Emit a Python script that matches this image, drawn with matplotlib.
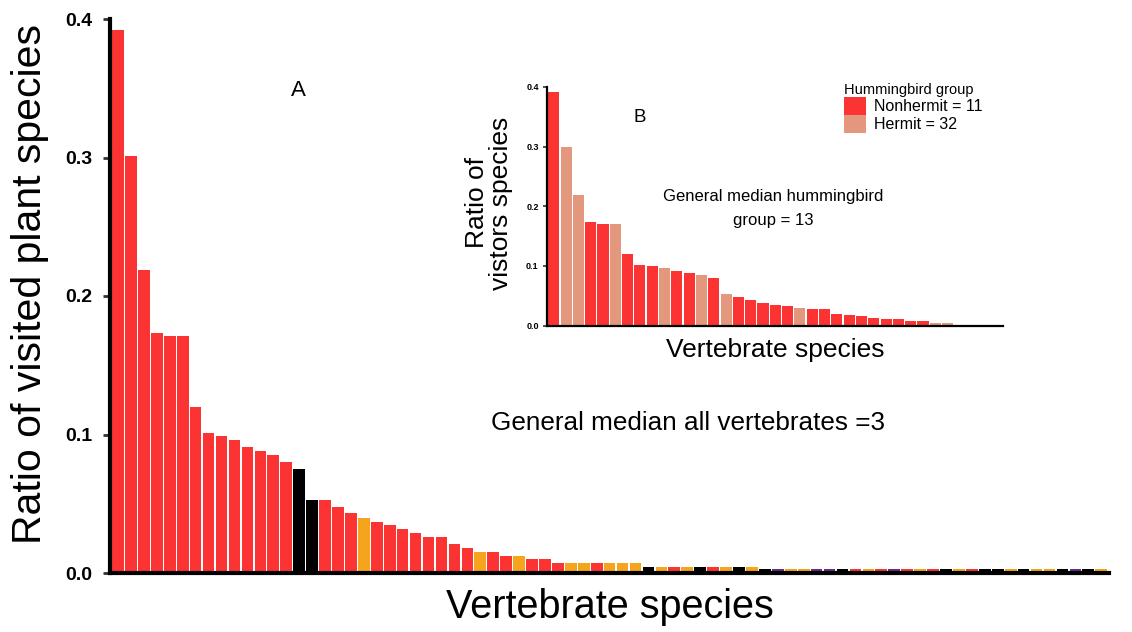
import matplotlib
matplotlib.use("Agg")
import matplotlib.pyplot as plt
from matplotlib.patches import Patch

plt.rcParams['font.family'] = ['Liberation Sans', 'DejaVu Sans']

# panel A: ratio of visited plant species per vertebrate visitor (sorted)
ratio_all = [0.392, 0.301, 0.219, 0.173, 0.171, 0.171, 0.120, 0.101, 0.099, 0.096,
             0.091, 0.088, 0.085, 0.080, 0.075, 0.053, 0.053, 0.048, 0.043, 0.040,
             0.037, 0.035, 0.032, 0.029, 0.026, 0.026, 0.021, 0.018, 0.0155, 0.0155,
             0.012, 0.012, 0.010, 0.010, 0.0075, 0.0075, 0.0075, 0.0075, 0.0075, 0.0075,
             0.0075, 0.0045, 0.0045, 0.0045, 0.0045, 0.0045, 0.0045, 0.0045, 0.0045, 0.0045,
             0.0028, 0.0028, 0.0028, 0.0028, 0.0028, 0.0028, 0.0028, 0.0028, 0.0028, 0.0028,
             0.0028, 0.0028, 0.0028, 0.0028, 0.0028, 0.0028, 0.0028, 0.0028, 0.0028, 0.0028,
             0.0028, 0.0028, 0.0028, 0.0028, 0.0028, 0.0028, 0.0028]
group_all = list("RRRRRRRRRRRRRRKKRRRORRRRRRRRORRORRROOROOO"
                 "KOROKROKO"
                 "KPOOPPKRORPRORKORKKOKOOKPKOO")

# panel B: hummingbirds only
ratio_hb = [0.392, 0.300, 0.219, 0.173, 0.171, 0.171, 0.120, 0.101, 0.099, 0.096,
            0.091, 0.088, 0.085, 0.080, 0.053, 0.048, 0.043, 0.037, 0.035, 0.032,
            0.029, 0.027, 0.027, 0.020, 0.018, 0.016, 0.013, 0.011, 0.011, 0.008,
            0.008, 0.005, 0.005]
group_hb = ["Nonhermit", "Hermit", "Hermit", "Nonhermit", "Nonhermit", "Hermit",
            "Nonhermit", "Nonhermit", "Nonhermit", "Hermit", "Nonhermit", "Nonhermit",
            "Hermit", "Nonhermit", "Hermit", "Nonhermit", "Nonhermit", "Nonhermit",
            "Nonhermit", "Nonhermit", "Hermit", "Nonhermit", "Nonhermit", "Nonhermit",
            "Nonhermit", "Nonhermit", "Nonhermit", "Nonhermit", "Nonhermit", "Nonhermit",
            "Nonhermit", "Hermit", "Hermit"]
legend_labels = ["Nonhermit = 11", "Hermit = 32"]
yticks = [0.0, 0.1, 0.2, 0.3, 0.4]

colors_all = {"R": "#fb3333", "O": "#f5a41d", "K": "#000000", "P": "#6a2a8c"}
colors_hb = {"Nonhermit": "#fb3333", "Hermit": "#e3977c"}

fig = plt.figure(figsize=(11.32, 6.32), dpi=100)

# ---- main panel
ax = fig.add_axes([110 / 1132, 1 - 573 / 632, 999 / 1132, 554 / 632])
ax.bar(range(len(ratio_all)), ratio_all, width=0.9,
       color=[colors_all[g] for g in group_all], linewidth=0)
ax.set_xlim(-0.62, len(ratio_all) - 0.4)
ax.set_ylim(0, 0.4)
ax.set_yticks(yticks)
ax.set_yticklabels([f"{v:.1f}" for v in yticks], fontsize=14, fontweight="bold")
ax.set_xticks([])
ax.tick_params(axis="y", length=5, width=2, color="#333333", pad=8)
for s in ("top", "right"):
    ax.spines[s].set_visible(False)
for s in ("left", "bottom"):
    ax.spines[s].set_linewidth(3)
    ax.spines[s].set_capstyle("projecting")

fig.text(30 / 1132, 1 - 284 / 632, "Ratio of visited plant species", rotation=90,
         ha="center", va="center", fontsize=29.5)
fig.text(610 / 1132, 1 - 607 / 632, "Vertebrate species", ha="center", va="center",
         fontsize=28.5)
fig.text(298 / 1132, 1 - 90 / 632, "A", ha="center", va="center", fontsize=16)
fig.text(688 / 1132, 1 - 423 / 632, "General median all vertebrates =3",
         ha="center", va="center", fontsize=18.8)

# ---- inset panel
axi = fig.add_axes([547 / 1132, 1 - 325.5 / 632, 456 / 1132, 238.5 / 632])
axi.bar(range(len(ratio_hb)), ratio_hb, width=0.9,
        color=[colors_hb[g] for g in group_hb], linewidth=0)
axi.set_xlim(-0.55, 36.5)
axi.set_ylim(0, 0.4)
axi.set_yticks(yticks)
axi.set_yticklabels([f"{v:.1f}" for v in yticks], fontsize=6.5, fontweight="bold")
axi.set_xticks([])
axi.tick_params(axis="y", length=3, width=1.2, color="#333333", pad=3)
for s in ("top", "right"):
    axi.spines[s].set_visible(False)
for s in ("left", "bottom"):
    axi.spines[s].set_linewidth(1.6)
    axi.spines[s].set_capstyle("projecting")
axi.patch.set_alpha(0)

fig.text(489 / 1132, 1 - 203 / 632, "Ratio of\nvistors species", rotation=90,
         ha="center", va="center", fontsize=19, linespacing=1.05)
fig.text(775 / 1132, 1 - 350 / 632, "Vertebrate species", ha="center", va="center",
         fontsize=19)
fig.text(640 / 1132, 1 - 117 / 632, "B", ha="center", va="center", fontsize=13.5)
fig.text(773 / 1132, 1 - 208 / 632, "General median hummingbird\ngroup = 13",
         ha="center", va="center", fontsize=12, linespacing=1.75)

handles = [Patch(facecolor=colors_hb[g], edgecolor="none") for g in ("Nonhermit", "Hermit")]
fig.legend(handles=handles, labels=legend_labels, title="Hummingbird group",
           loc="upper left", bbox_to_anchor=(833 / 1132, 1 - 72 / 632),
           frameon=False, fontsize=11.5, title_fontsize=10.5, alignment="left",
           handlelength=1.35, handleheight=1.35, labelspacing=0.0,
           handletextpad=0.5, borderpad=0.2)

fig.savefig("out.png", dpi=100)
